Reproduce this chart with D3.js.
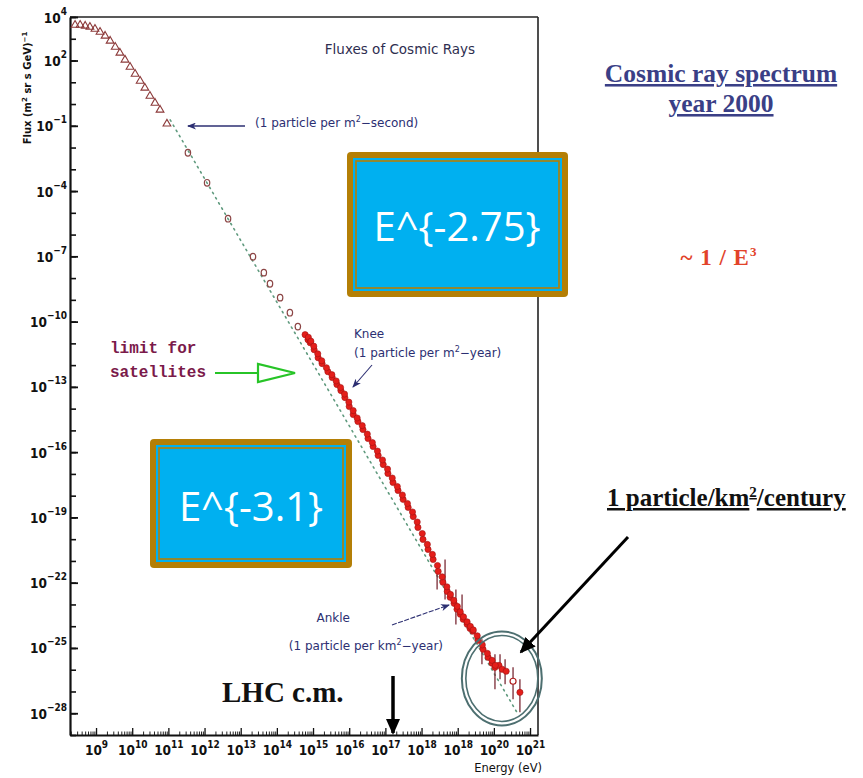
<!DOCTYPE html>
<html>
<head>
<meta charset="utf-8">
<script src="https://cdn.jsdelivr.net/npm/d3@7"></script>
<style>
  body { margin: 0; background: #fff; }
</style>
</head>
<body>
<div id="chart"></div>
<script>
// readings, in log10 units: [log10 E (eV), log10 flux]
var triangles = [
  [8.42, 3.63], [8.56, 3.63], [8.70, 3.59], [8.83, 3.54], [8.97, 3.45],
  [9.11, 3.31], [9.25, 3.13], [9.39, 2.90], [9.53, 2.62], [9.66, 2.35],
  [9.80, 2.03], [9.94, 1.70], [10.08, 1.38], [10.22, 1.06], [10.35, 0.74],
  [10.49, 0.37], [10.63, 0.05], [10.77, -0.27], [10.96, -0.91],
];
var circles = [
  [11.54, -2.24], [12.07, -3.62], [12.65, -5.27], [13.34, -7.02], [13.64, -7.75],
  [13.81, -8.26], [14.09, -8.90], [14.36, -9.59], [14.58, -10.23],
];
// left edge of the red band
var redPoints = [
  [14.78, -10.60], [14.86, -10.83], [14.92, -10.97], [15.03, -11.29], [15.14, -11.66],
  [15.25, -11.93], [15.41, -12.30], [15.53, -12.57], [15.66, -12.89], [15.77, -13.17],
  [15.88, -13.49], [16.00, -13.90], [16.11, -14.27], [16.24, -14.59], [16.38, -14.96],
  [16.52, -15.37], [16.66, -15.74], [16.80, -16.15], [16.94, -16.57], [17.07, -16.98],
  [17.21, -17.39], [17.35, -17.76], [17.49, -18.17], [17.63, -18.54], [17.77, -18.96],
  [17.90, -19.46], [18.04, -20.01], [18.18, -20.47], [18.32, -20.93], [18.46, -21.48],
  [18.59, -21.98], [18.71, -22.40], [18.79, -22.67], [18.90, -22.95], [18.98, -23.22],
  [19.07, -23.45], [19.15, -23.68], [19.26, -23.91], [19.34, -24.10], [19.42, -24.23],
  [19.56, -24.65], [19.70, -25.06], [19.84, -25.43], [19.95, -25.70], [20.03, -25.89],
  [20.14, -25.80], [20.23, -25.98], [20.34, -26.07], [20.72, -27.04],
];
// right edge of the red band
var redPoints2 = [
  [14.87, -10.72], [14.94, -10.90], [15.02, -11.13], [15.13, -11.48], [15.24, -11.80],
  [15.37, -12.12], [15.52, -12.44], [15.64, -12.73], [15.76, -13.03], [15.87, -13.33],
  [15.99, -13.70], [16.11, -14.09], [16.22, -14.43], [16.36, -14.78], [16.50, -15.17],
  [16.64, -15.56], [16.78, -15.95], [16.92, -16.36], [17.06, -16.78], [17.19, -17.19],
  [17.33, -17.58], [17.47, -17.97], [17.61, -18.36], [17.75, -18.75], [17.88, -19.21],
  [18.02, -19.74], [18.16, -20.24], [18.30, -20.70], [18.44, -21.21], [18.57, -21.73],
  [18.70, -22.19], [18.80, -22.54], [18.89, -22.81], [18.99, -23.09], [19.07, -23.34],
  [19.16, -23.57], [19.26, -23.80], [19.35, -24.01], [19.43, -24.17], [19.54, -24.44],
  [19.68, -24.86], [19.82, -25.25], [19.95, -25.57], [20.04, -25.80],
];
var openPoints = [[20.53, -26.53]];
// [log10 E, upper, lower]
var errorBars = [
  [18.43, -21.16, -22.31], [18.65, -20.93, -22.77], [18.95, -22.31, -23.92],
  [19.12, -22.54, -23.69], [19.67, -24.60, -25.75], [20.03, -25.29, -26.90],
  [20.17, -25.29, -26.44], [20.31, -25.52, -26.67], [20.53, -25.89, -27.36],
  [20.72, -26.44, -27.96],
];
var fitLine = [[11.05, -0.73], [20.67, -28.05]];

var xTickExps = [9, 10, 11, 12, 13, 14, 15, 16, 17, 18, 19, 20, 21];
var xTickLabels = ['9', '10', '11', '12', '13', '14', '15', '16', '17', '18', '18', '20', '21'];
var yTickExps = [4, 2, -1, -4, -7, -10, -13, -16, -19, -22, -25, -28];

var W = 863, H = 778;
var pLeft = 70, pRight = 538, pTop = 17, pBottom = 735;
var navy = '#2c2f72';
var tickFont = '"Liberation Sans Narrow", "DejaVu Sans Condensed", "Liberation Sans", sans-serif';

var svg = d3.select('#chart').append('svg')
  .attr('width', W).attr('height', H)
  .style('font-family', 'DejaVu Sans, sans-serif');

svg.append('rect').attr('width', W).attr('height', H).attr('fill', '#fff');

var x = d3.scaleLog().domain([Math.pow(10, 8.28), Math.pow(10, 21.22)]).range([pLeft, pRight]);
var y = d3.scaleLog().domain([1e-29, 1e4]).range([pBottom, pTop]);

function px(d) { return x(Math.pow(10, d[0])); }
function py(d) { return y(Math.pow(10, d[1])); }

var defs = svg.append('defs');
defs.append('marker').attr('id', 'navyHead')
  .attr('markerUnits', 'userSpaceOnUse')
  .attr('markerWidth', 9).attr('markerHeight', 7)
  .attr('refX', 8).attr('refY', 3.5).attr('orient', 'auto')
  .append('path').attr('d', 'M0,0 L9,3.5 L0,7 L2.5,3.5 Z').attr('fill', navy);
defs.append('marker').attr('id', 'blackHead')
  .attr('markerUnits', 'userSpaceOnUse')
  .attr('markerWidth', 16).attr('markerHeight', 14)
  .attr('refX', 14).attr('refY', 7).attr('orient', 'auto')
  .append('path').attr('d', 'M0,0 L16,7 L0,14 Z').attr('fill', '#000');

// frame
svg.append('line').attr('x1', pLeft).attr('x2', pRight).attr('y1', pTop).attr('y2', pTop)
  .attr('stroke', '#222').attr('stroke-width', 1.6);
svg.append('line').attr('x1', pRight).attr('x2', pRight).attr('y1', pTop).attr('y2', pBottom)
  .attr('stroke', '#222').attr('stroke-width', 1.6);

// x axis: minor ticks then decades
var xMinor = [];
for (var e = 8; e <= 21; e++) {
  for (var m = 2; m <= 9; m++) {
    var v = m * Math.pow(10, e);
    if (v > x.domain()[0] && v < x.domain()[1]) xMinor.push(v);
  }
}
var xAxisMinor = svg.append('g')
  .attr('transform', 'translate(0,' + pBottom + ')')
  .call(d3.axisBottom(x).tickValues(xMinor).tickSize(-3.5).tickSizeOuter(0).tickFormat(''));
xAxisMinor.select('.domain').remove();
xAxisMinor.selectAll('line').attr('stroke', '#222').attr('stroke-width', 1);

var xAxis = svg.append('g')
  .attr('transform', 'translate(0,' + pBottom + ')')
  .call(d3.axisBottom(x)
    .tickValues(xTickExps.map(function(e) { return Math.pow(10, e); }))
    .tickSize(-7).tickSizeOuter(0).tickFormat(''));
xAxis.select('.domain').attr('stroke', '#111').attr('stroke-width', 2.2);
xAxis.selectAll('line').attr('stroke', '#111').attr('stroke-width', 1.3);
xAxis.selectAll('.tick').each(function(d, i) {
  var t = d3.select(this).append('text')
    .attr('y', 20).attr('text-anchor', 'middle')
    .attr('fill', '#111')
    .style('font-family', tickFont).style('font-weight', 'bold').style('font-size', '13.5px');
  t.append('tspan').text('10');
  t.append('tspan').attr('dy', -7).style('font-size', '10px').text(xTickLabels[i]);
});

// y axis: every decade
var yAll = d3.range(-29, 5).map(function(e) { return Math.pow(10, e); });
var yAxisMinor = svg.append('g')
  .attr('transform', 'translate(' + pLeft + ',0)')
  .call(d3.axisLeft(y).tickValues(yAll).tickSize(-6).tickSizeOuter(0).tickFormat(''));
yAxisMinor.select('.domain').attr('stroke', '#111').attr('stroke-width', 2.2);
yAxisMinor.selectAll('line').attr('stroke', '#111').attr('stroke-width', 1.6);

var yAxis = svg.append('g')
  .attr('transform', 'translate(' + pLeft + ',0)')
  .call(d3.axisLeft(y)
    .tickValues(yTickExps.map(function(e) { return Math.pow(10, e); }))
    .tickSize(-8).tickSizeOuter(0).tickFormat(''));
yAxis.select('.domain').remove();
yAxis.selectAll('line').attr('stroke', '#111').attr('stroke-width', 1.8);
yAxis.selectAll('.tick').each(function(d, i) {
  var t = d3.select(this).append('text')
    .attr('x', -3).attr('y', 5).attr('text-anchor', 'end')
    .attr('fill', '#111')
    .style('font-family', tickFont).style('font-weight', 'bold').style('font-size', '13.5px');
  t.append('tspan').text('10');
  t.append('tspan').attr('dy', -8).style('font-size', '10px')
    .text(String(yTickExps[i]).replace('-', '\u2212'));
});

// axis titles
var yTitle = svg.append('text')
  .attr('transform', 'translate(31,88) rotate(-90)')
  .attr('text-anchor', 'middle').attr('fill', '#111')
  .style('font-size', '10px').style('font-weight', 'bold');
yTitle.append('tspan').text('Flux (m');
yTitle.append('tspan').attr('dy', -4).style('font-size', '7px').text('2');
yTitle.append('tspan').attr('dy', 4).text(' sr s GeV)');
yTitle.append('tspan').attr('dy', -4).style('font-size', '7px').text('\u22121');

svg.append('text').attr('x', 542).attr('y', 772).attr('text-anchor', 'end')
  .attr('fill', '#111').style('font-size', '11.5px').text('Energy (eV)');

svg.append('text').attr('x', 400).attr('y', 54).attr('text-anchor', 'middle')
  .attr('fill', '#2e2e50').style('font-size', '13.5px').text('Fluxes of Cosmic Rays');

// dotted power-law line
svg.append('path')
  .datum(fitLine)
  .attr('d', d3.line().x(px).y(py))
  .attr('fill', 'none').attr('stroke', '#5f9a7e')
  .attr('stroke-width', 1.6).attr('stroke-dasharray', '1.5,4.5')
  .attr('stroke-linecap', 'round');

// triangles
svg.append('g').selectAll('path').data(triangles).enter().append('path')
  .attr('transform', function(d) { return 'translate(' + px(d) + ',' + py(d) + ')'; })
  .attr('d', d3.symbol().type(d3.symbolTriangle).size(26))
  .attr('fill', 'none').attr('stroke', '#8c3a3a').attr('stroke-width', 1.1);

// open circles
svg.append('g').selectAll('ellipse').data(circles).enter().append('ellipse')
  .attr('cx', px).attr('cy', py).attr('rx', 2.7).attr('ry', 3.3)
  .attr('fill', 'none').attr('stroke', '#8c4545').attr('stroke-width', 1.2);

// error bars
svg.append('g').selectAll('line').data(errorBars).enter().append('line')
  .attr('x1', px).attr('x2', px)
  .attr('y1', function(d) { return y(Math.pow(10, d[1])); })
  .attr('y2', function(d) { return y(Math.pow(10, d[2])); })
  .attr('stroke', '#7a2a35').attr('stroke-width', 1.3);

// red data
svg.append('g').selectAll('circle').data(redPoints.concat(redPoints2)).enter().append('circle')
  .attr('cx', px).attr('cy', py).attr('r', 3.1)
  .attr('fill', '#e41e1a').attr('stroke', '#a01212').attr('stroke-width', 0.6);

svg.append('g').selectAll('circle').data(openPoints).enter().append('circle')
  .attr('cx', px).attr('cy', py).attr('r', 3)
  .attr('fill', '#fff').attr('stroke', '#b02020').attr('stroke-width', 1.2);

// annotations inside plot
svg.append('line').attr('x1', 245).attr('y1', 126).attr('x2', 188).attr('y2', 126)
  .attr('stroke', navy).attr('stroke-width', 1.4).attr('marker-end', 'url(#navyHead)');
var t1 = svg.append('text').attr('x', 255).attr('y', 127).attr('fill', navy).style('font-size', '12px');
t1.append('tspan').text('(1 particle per m');
t1.append('tspan').attr('dy', -5).style('font-size', '8px').text('2');
t1.append('tspan').attr('dy', 5).text('\u2212second)');

svg.append('text').attr('x', 354).attr('y', 338).attr('fill', navy).style('font-size', '12px').text('Knee');
var t2 = svg.append('text').attr('x', 354).attr('y', 357).attr('fill', navy).style('font-size', '12px');
t2.append('tspan').text('(1 particle per m');
t2.append('tspan').attr('dy', -5).style('font-size', '8px').text('2');
t2.append('tspan').attr('dy', 5).text('\u2212year)');
svg.append('line').attr('x1', 372).attr('y1', 365).attr('x2', 353).attr('y2', 387)
  .attr('stroke', navy).attr('stroke-width', 1.1).attr('marker-end', 'url(#navyHead)');

svg.append('text').attr('x', 350).attr('y', 622).attr('text-anchor', 'end')
  .attr('fill', navy).style('font-size', '12px').text('Ankle');
var t3 = svg.append('text').attr('x', 443).attr('y', 650).attr('text-anchor', 'end')
  .attr('fill', navy).style('font-size', '12px');
t3.append('tspan').text('(1 particle per km');
t3.append('tspan').attr('dy', -5).style('font-size', '8px').text('2');
t3.append('tspan').attr('dy', 5).text('\u2212year)');
svg.append('line').attr('x1', 392).attr('y1', 625).attr('x2', 449).attr('y2', 605)
  .attr('stroke', navy).attr('stroke-width', 1.1).attr('stroke-dasharray', '5,1.5')
  .attr('marker-end', 'url(#navyHead)');

// limit for satellites
var mono = '"Liberation Mono", "DejaVu Sans Mono", monospace';
svg.append('text').attr('x', 110).attr('y', 353).attr('fill', '#7b1a4a')
  .style('font-family', mono).style('font-weight', 'bold').style('font-size', '16px').text('limit for');
svg.append('text').attr('x', 110).attr('y', 377).attr('fill', '#7b1a4a')
  .style('font-family', mono).style('font-weight', 'bold').style('font-size', '16px').text('satellites');
svg.append('line').attr('x1', 215).attr('y1', 373).attr('x2', 258).attr('y2', 373)
  .attr('stroke', '#27c427').attr('stroke-width', 2);
svg.append('polygon').attr('points', '258,364 258,382 295,373')
  .attr('fill', 'none').attr('stroke', '#27c427').attr('stroke-width', 2.2);

// LHC
svg.append('text').attr('x', 222).attr('y', 702).attr('fill', '#111')
  .style('font-family', '"Liberation Serif", serif').style('font-weight', 'bold')
  .style('font-size', '29px').text('LHC c.m.');
svg.append('line').attr('x1', 393).attr('y1', 676).attr('x2', 393).attr('y2', 733)
  .attr('stroke', '#000').attr('stroke-width', 3.5).attr('marker-end', 'url(#blackHead)');

// ellipse round highest energy points
var ex = x(Math.pow(10, 20.22)), ey = y(Math.pow(10, -26.4));
svg.append('ellipse').attr('cx', ex).attr('cy', ey).attr('rx', 40).attr('ry', 47)
  .attr('fill', 'none').attr('stroke', '#4d6f70').attr('stroke-width', 2);
svg.append('ellipse').attr('cx', ex).attr('cy', ey).attr('rx', 36).attr('ry', 43)
  .attr('fill', 'none').attr('stroke', '#4d6f70').attr('stroke-width', 1.6);

svg.append('line').attr('x1', 628).attr('y1', 537).attr('x2', 521).attr('y2', 652)
  .attr('stroke', '#000').attr('stroke-width', 3).attr('marker-end', 'url(#blackHead)');

// blue boxes
var boxes = [
  {x: 347, y: 152, w: 221, h: 145, label: 'E^{-2.75}', tx: 457, ty: 241},
  {x: 150, y: 439, w: 202, h: 129, label: 'E^{-3.1}', tx: 251, ty: 521},
];
boxes.forEach(function(b) {
  var g = svg.append('g');
  g.append('rect').attr('x', b.x).attr('y', b.y).attr('width', b.w).attr('height', b.h)
    .attr('rx', 4).attr('fill', '#b47f06');
  g.append('rect').attr('x', b.x + 6).attr('y', b.y + 6).attr('width', b.w - 12).attr('height', b.h - 12)
    .attr('fill', '#00b0f0');
  g.append('rect').attr('x', b.x + 9).attr('y', b.y + 9).attr('width', b.w - 18).attr('height', b.h - 18)
    .attr('fill', 'none').attr('stroke', '#b47f06').attr('stroke-width', 1.6);
  g.append('text').attr('x', b.tx).attr('y', b.ty).attr('text-anchor', 'middle')
    .attr('fill', '#fff').style('font-family', '"Open Sans", sans-serif')
    .style('font-size', '40px').text(b.label);
});

// right-hand notes
var serif = '"Liberation Serif", "Times New Roman", serif';
svg.append('text').attr('x', 721).attr('y', 82).attr('text-anchor', 'middle')
  .attr('fill', '#3a3f86').style('font-family', serif).style('font-weight', 'bold')
  .style('font-size', '25.5px').style('text-decoration', 'underline').text('Cosmic ray spectrum');
svg.append('text').attr('x', 721).attr('y', 112).attr('text-anchor', 'middle')
  .attr('fill', '#3a3f86').style('font-family', serif).style('font-weight', 'bold')
  .style('font-size', '25.5px').style('text-decoration', 'underline').text('year 2000');

var t4 = svg.append('text').attr('x', 719).attr('y', 265).attr('text-anchor', 'middle')
  .attr('fill', '#e2432a').style('font-family', serif).style('font-weight', 'bold')
  .style('font-size', '23px').style('letter-spacing', '1px');
t4.append('tspan').text('~ 1 / E');
t4.append('tspan').attr('dy', -9).style('font-size', '13px').text('3');

var t5 = svg.append('text').attr('x', 607).attr('y', 506)
  .attr('fill', '#111').style('font-family', serif).style('font-weight', 'bold')
  .style('font-size', '25px').style('text-decoration', 'underline');
t5.append('tspan').text('1 particle/km');
t5.append('tspan').attr('dy', -9).style('font-size', '15px').text('2');
t5.append('tspan').attr('dy', 9).text('/century');
</script>
</body>
</html>
